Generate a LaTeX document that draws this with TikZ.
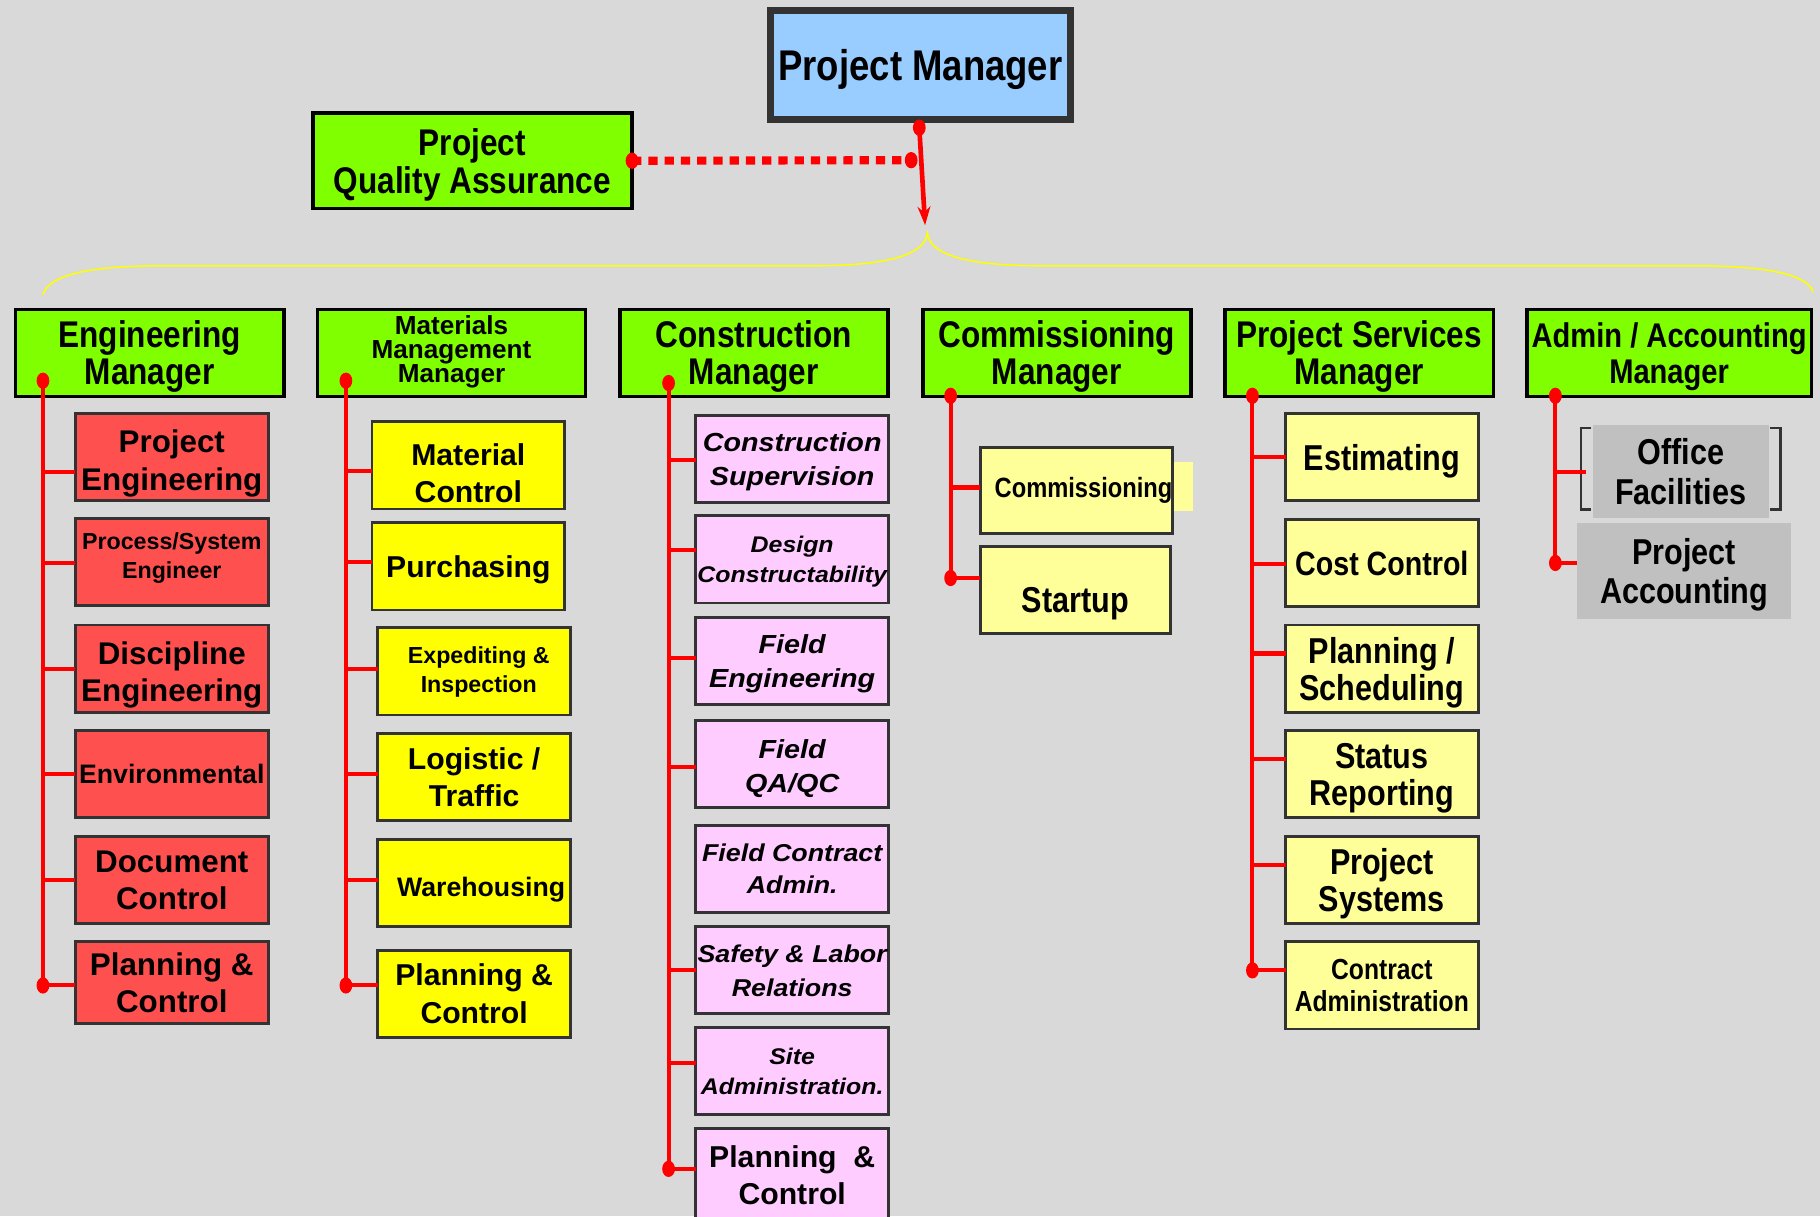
\documentclass[tikz,border=0pt]{standalone}
\usepackage{fontspec}
\setmainfont{Liberation Sans}
\newfontfamily\narf[FakeStretch=0.85]{Liberation Sans}
\newfontfamily\widf[FakeStretch=1.1]{Liberation Sans}
\usetikzlibrary{arrows.meta}
\definecolor{bgc}{HTML}{D9D9D9}
\definecolor{hgreen}{HTML}{80FF00}
\definecolor{pmblue}{HTML}{99CCFF}
\definecolor{edgec}{HTML}{333333}
\definecolor{engred}{HTML}{FF5050}
\definecolor{matyel}{HTML}{FFFF00}
\definecolor{lyel}{HTML}{FFFF99}
\definecolor{pinkc}{HTML}{FFCCFF}
\definecolor{gryc}{HTML}{C0C0C0}
\definecolor{bracec}{HTML}{FFFF00}
\newcommand\fsz[2]{\fontsize{#1}{#2}\selectfont}
\tikzset{
  base/.style={draw=edgec, line width=2.5pt, inner sep=0pt, outer sep=0pt, align=center, text=black, text depth=0pt},
  hdr/.style={base, draw=black, line width=3pt, fill=hgreen, minimum width=231pt, minimum height=75pt, font=\narf\bfseries\fsz{32}{32}},
  engbox/.style={base, fill=engred, minimum width=166pt, minimum height=75pt, font=\bfseries\fsz{27}{32}},
  matbox/.style={base, fill=matyel, minimum width=166pt, minimum height=75pt, font=\bfseries\fsz{26}{32}},
  conbox/.style={base, fill=pinkc, minimum width=166pt, minimum height=75pt, font=\widf\bfseries\itshape\fsz{22.5}{29.5}},
  psbox/.style={base, fill=lyel, minimum width=166pt, minimum height=75pt, font=\narf\bfseries\fsz{31}{32}},
  graybox/.style={inner sep=0pt, outer sep=0pt, fill=gryc, align=center, text depth=0pt, font=\narf\bfseries\fsz{31}{34}},
  redline/.style={draw=red, line width=3.5pt}
}
\newcommand\rdot[1]{\fill[red] (#1) ellipse [x radius=5.5pt, y radius=7pt];}
\begin{document}
\begin{tikzpicture}[x=1pt,y=-1pt]
\useasboundingbox (0,0) rectangle (1568,1048);
\fill[bgc] (0,0) rectangle (1568,1048);

% top
\node[base, draw=edgec, line width=6pt, fill=pmblue, minimum width=258pt, minimum height=94pt, font=\narf\bfseries\fsz{37}{37}] (pm) at (793,56) {Project Manager};
\node[base, draw=black, line width=3pt, fill=hgreen, minimum width=275pt, minimum height=82pt, font=\narf\bfseries\fsz{32}{33}] (pqa) at (407,138.5) {Project\\Quality Assurance};

\coordinate (pmb) at (792,110);
\coordinate (qj) at (785,138);
\coordinate (ah) at (797,194);
\draw[red, line width=7pt, dash pattern=on 8pt off 6pt] (pqa.east) -- (qj);
\draw[red, line width=4pt, -{Stealth[length=16pt,width=11pt]}] (pmb) -- (ah);
\rdot{pqa.east}
\rdot{qj}
\rdot{pmb}

% brace
\draw[bracec, line width=1.3pt] (37,254) .. controls (42,236) and (80,229) .. (140,229) -- (700,229)
  .. controls (770,229) and (797,218) .. (799,201)
  .. controls (801,218) and (828,229) .. (898,229) -- (1460,229)
  .. controls (1520,229) and (1558,236) .. (1562,252);

% headers
\node[hdr] (h1) at (129,304) {Engineering\\Manager};
\node[hdr, font=\bfseries\fsz{22.5}{20}, text depth=6pt] (h2) at (389,304) {Materials\\Management\\Manager};
\node[hdr] (h3) at (649.5,304) {Construction\\Manager};
\node[hdr] (h4) at (910.5,304) {Commissioning\\Manager};
\node[hdr] (h5) at (1171,304) {Project Services\\Manager};
\node[hdr, minimum width=245pt, font=\narf\bfseries\fsz{29.5}{31}] (h6) at (1438,304) {Admin / Accounting\\Manager};

% Engineering column
\node[engbox, text height=57.5pt] (e1) at (148,393.5) {Project\\Engineering};
\node[engbox, font=\bfseries\fsz{20}{25}, text depth=12pt] (e2) at (148,484.5) {Process/System\\Engineer};
\node[engbox, text height=56.5pt] (e3) at (148,576) {Discipline\\Engineering};
\node[engbox, font=\bfseries\fsz{23}{28}] (e4) at (148,667) {Environmental};
\node[engbox] (e5) at (148,758) {Document\\Control};
\node[engbox, minimum height=71pt] (e6) at (148,846.5) {Planning \&\\Control};
\coordinate (s1t) at (37,328);
\coordinate (s1b) at (37,849);
\draw[redline] (s1t) -- (s1b);
\foreach \n/\y in {e1/407,e2/485,e3/576,e4/667,e5/758,e6/849}
  \draw[redline] (37,\y) -- (\n.west |- 37,\y);
\rdot{s1t}
\rdot{s1b}

% Materials column
\node[matbox, text height=64pt] (m1) at (403.5,401) {Material\\Control};
\node[matbox] (m2) at (403.5,488) {Purchasing};
\node[matbox, font=\bfseries\fsz{20}{25}, text depth=4pt] (m3) at (408.5,578.5) {\hspace*{8pt}Expediting \&\\\hspace*{8pt}Inspection};
\node[matbox] (m4) at (408.5,669.5) {Logistic /\\Traffic};
\node[matbox, font=\bfseries\fsz{23}{28}, text height=24.5pt] (m5) at (408.5,760.5) {\hspace*{12pt}Warehousing};
\node[matbox] (m6) at (408.5,856) {Planning \&\\Control};
\coordinate (s2t) at (298,328);
\coordinate (s2b) at (298,849);
\draw[redline] (s2t) -- (s2b);
\foreach \n/\y in {m1/406,m2/484,m3/576,m4/667,m5/758,m6/849}
  \draw[redline] (298,\y) -- (\n.west |- 298,\y);
\rdot{s2t}
\rdot{s2b}

% Construction column
\node[conbox] (c1) at (682.5,395.5) {Construction\\Supervision};
\node[conbox, font=\widf\bfseries\itshape\fsz{19.5}{26}] (c2) at (682.5,482) {Design\\Constructability};
\node[conbox] (c3) at (682.5,569.5) {Field\\Engineering};
\node[conbox, text height=48.5pt] (c4) at (682.5,658.5) {Field\\QA/QC};
\node[conbox, font=\widf\bfseries\itshape\fsz{21}{28}] (c5) at (682.5,748.5) {Field Contract\\Admin.};
\node[conbox, font=\widf\bfseries\itshape\fsz{21}{29}] (c6) at (682.5,836) {Safety \& Labor\\Relations};
\node[conbox, font=\widf\bfseries\itshape\fsz{19.5}{26}] (c7) at (682.5,923) {Site\\Administration.};
\node[conbox, minimum height=80pt, font=\bfseries\fsz{26}{32}] (c8) at (682.5,1012) {Planning \ \&\\Control};
\coordinate (s3t) at (576,330);
\coordinate (s3b) at (576,1007);
\draw[redline] (s3t) -- (s3b);
\foreach \n/\y in {c1/396,c2/474,c3/567,c4/661,c6/836,c7/916,c8/1007}
  \draw[redline] (576,\y) -- (\n.west |- 576,\y);
\rdot{s3t}
\rdot{s3b}

% Commissioning column
\fill[lyel] (1008,398) rectangle (1028,440);
\node[psbox, minimum width=166pt, minimum height=74pt, font=\narf\bfseries\fsz{24}{28}, text depth=5pt] (cm1) at (927.5,422.5) {\hspace*{12pt}Commissioning};
\node[psbox, minimum width=164pt, font=\narf\bfseries\fsz{31}{32}, text height=38pt] (cm2) at (926.5,508.5) {Startup};
\coordinate (s4t) at (819,341);
\coordinate (s4b) at (819,498);
\draw[redline] (s4t) -- (s4b);
\draw[redline] (819,420) -- (cm1.west |- 819,420);
\draw[redline] (819,498) -- (cm2.west |- 819,498);
\rdot{s4t}
\rdot{s4b}

% Project services column
\node[psbox] (p1) at (1190.5,394) {Estimating};
\node[psbox, font=\narf\bfseries\fsz{29}{32}] (p2) at (1190.5,485) {Cost Control};
\node[psbox] (p3) at (1190.5,576) {Planning /\\Scheduling};
\node[psbox] (p4) at (1190.5,667) {Status\\Reporting};
\node[psbox] (p5) at (1190.5,758) {Project\\Systems};
\node[psbox, font=\narf\bfseries\fsz{25}{27}] (p6) at (1190.5,849) {Contract\\Administration};
\coordinate (s5t) at (1079,341);
\coordinate (s5b) at (1079,836);
\draw[redline] (s5t) -- (s5b);
\foreach \n/\y in {p1/394,p2/486,p3/563,p4/654,p5/745,p6/836}
  \draw[redline] (1079,\y) -- (\n.west |- 1079,\y);
\rdot{s5t}
\rdot{s5b}

% Admin column
\node[graybox, minimum width=152pt, minimum height=80pt] (a1) at (1448,406) {Office\\Facilities};
\draw[edgec, line width=2pt] (1371,369) -- (1362,369) -- (1362,439) -- (1371,439);
\draw[edgec, line width=2pt] (1525,369) -- (1534,369) -- (1534,439) -- (1525,439);
\node[graybox, minimum width=184pt, minimum height=82pt, font=\narf\bfseries\fsz{31}{33}] (a2) at (1451,492) {Project\\Accounting};
\coordinate (s6t) at (1340,341);
\coordinate (s6b) at (1340,485);
\draw[redline] (s6t) -- (s6b);
\draw[redline] (1340,407) -- (1366,407);
\draw[redline] (1340,485) -- (a2.west |- 1340,485);
\rdot{s6t}
\rdot{s6b}
\end{tikzpicture}
\end{document}
